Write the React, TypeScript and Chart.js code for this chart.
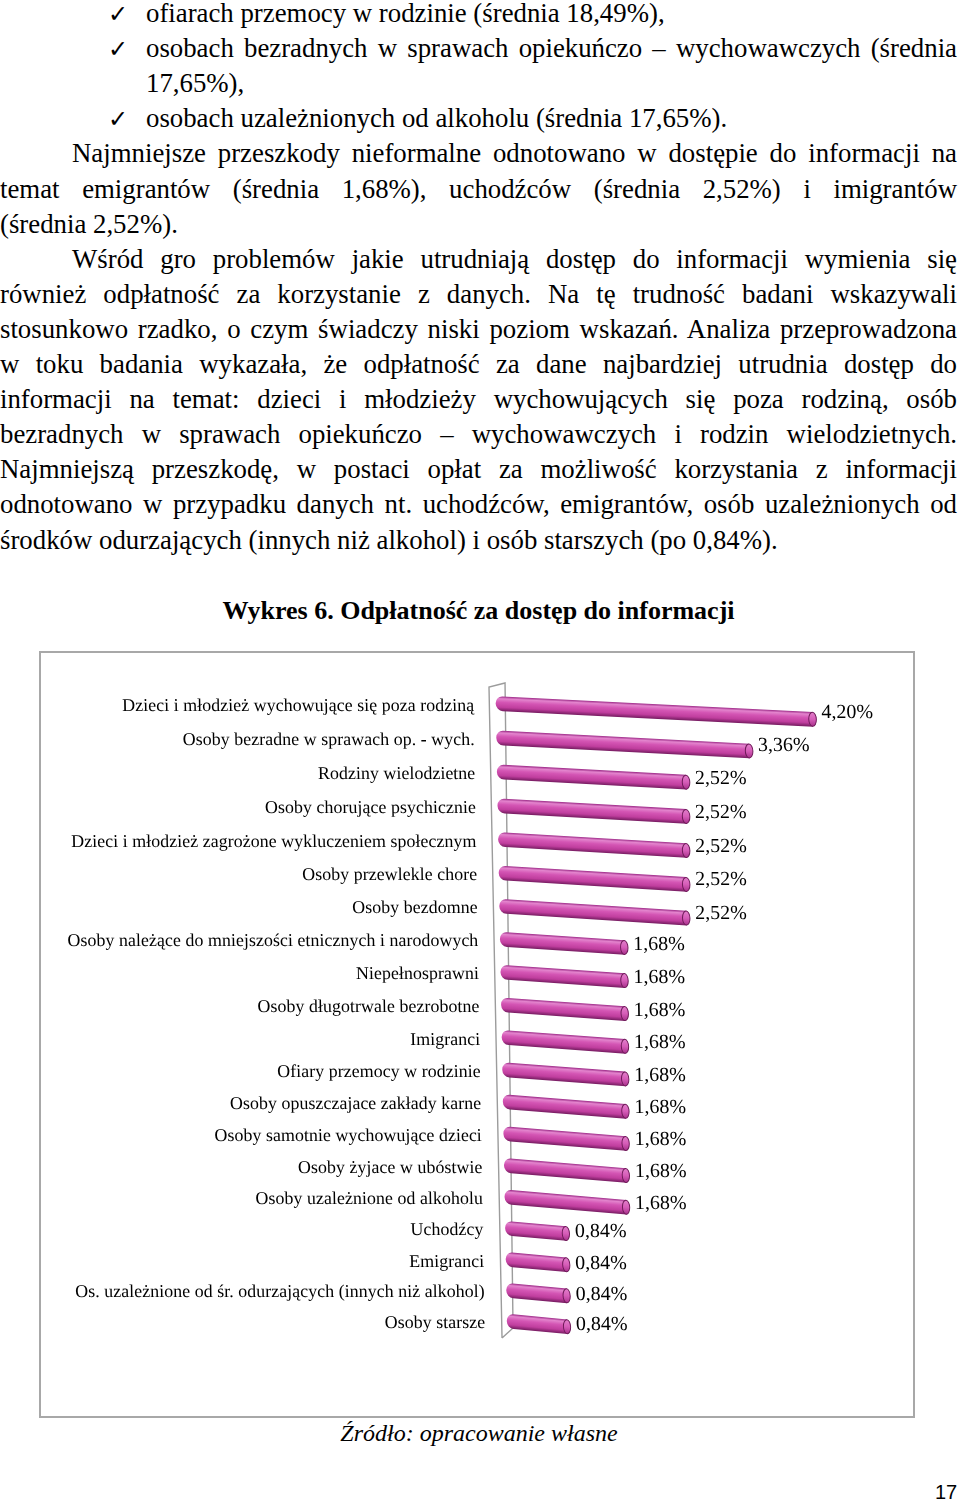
import React, { useEffect, useRef } from 'react';
import { Chart, registerables, CategoryScale } from 'chart.js';

Chart.register(...registerables);

// ---------- DATA ----------
const categories: string[] = [
  'Dzieci i młodzież wychowujące się poza rodziną',
  'Osoby bezradne w sprawach op. - wych.',
  'Rodziny wielodzietne',
  'Osoby chorujące psychicznie',
  'Dzieci i młodzież zagrożone wykluczeniem społecznym',
  'Osoby przewlekle chore',
  'Osoby bezdomne',
  'Osoby należące do mniejszości etnicznych i narodowych',
  'Niepełnosprawni',
  'Osoby długotrwale bezrobotne',
  'Imigranci',
  'Ofiary przemocy w rodzinie',
  'Osoby opuszczajace zakłady karne',
  'Osoby samotnie wychowujące dzieci',
  'Osoby żyjace w ubóstwie',
  'Osoby uzależnione od alkoholu',
  'Uchodźcy',
  'Emigranci',
  'Os. uzależnione od śr. odurzających (innych niż alkohol)',
  'Osoby starsze',
];

const values: number[] = [
  4.2, 3.36, 2.52, 2.52, 2.52, 2.52, 2.52, 1.68, 1.68, 1.68, 1.68, 1.68, 1.68,
  1.68, 1.68, 1.68, 0.84, 0.84, 0.84, 0.84,
];

const fmt = (v: number) => v.toFixed(2).replace('.', ',') + '%';

// ---------- PAGE TEXT ----------
type Line = { text: string; left: number; justify: boolean; check?: boolean };
const textLines: Line[] = [
  { text: 'ofiarach przemocy w rodzinie (średnia 18,49%),', left: 146, justify: false, check: true },
  { text: 'osobach bezradnych w sprawach opiekuńczo – wychowawczych (średnia', left: 146, justify: true, check: true },
  { text: '17,65%),', left: 146, justify: false },
  { text: 'osobach uzależnionych od alkoholu (średnia 17,65%).', left: 146, justify: false, check: true },
  { text: 'Najmniejsze przeszkody nieformalne odnotowano w dostępie do informacji na', left: 72, justify: true },
  { text: 'temat emigrantów (średnia 1,68%), uchodźców (średnia 2,52%) i imigrantów', left: 0, justify: true },
  { text: '(średnia 2,52%).', left: 0, justify: false },
  { text: 'Wśród gro problemów jakie utrudniają dostęp do informacji wymienia się', left: 72, justify: true },
  { text: 'również odpłatność za korzystanie z danych. Na tę trudność badani wskazywali', left: 0, justify: true },
  { text: 'stosunkowo rzadko, o czym świadczy niski poziom wskazań. Analiza przeprowadzona', left: 0, justify: true },
  { text: 'w toku badania wykazała, że odpłatność za dane najbardziej utrudnia dostęp do', left: 0, justify: true },
  { text: 'informacji na temat: dzieci i młodzieży wychowujących się poza rodziną, osób', left: 0, justify: true },
  { text: 'bezradnych w sprawach opiekuńczo – wychowawczych i rodzin wielodzietnych.', left: 0, justify: true },
  { text: 'Najmniejszą przeszkodę, w postaci opłat za możliwość korzystania z informacji', left: 0, justify: true },
  { text: 'odnotowano w przypadku danych nt. uchodźców, emigrantów, osób uzależnionych od', left: 0, justify: true },
  { text: 'środków odurzających (innych niż alkohol) i osób starszych (po 0,84%).', left: 0, justify: false },
];

// ---------- PERSPECTIVE HELPERS ----------
const K_PERSP = 0.06; // row spacing shrinks downward
class PerspCategoryScale extends (CategoryScale as any) {
  static id = 'perspCategory';
  static defaults = (CategoryScale as any).defaults;
  getPixelForDecimal(d: number) {
    return super.getPixelForDecimal(d + K_PERSP * d * (1 - d));
  }
}
Chart.register(PerspCategoryScale as any);

const KX = 0.018; // left edge drifts right downward
const SX_K = 0.000088; // horizontal scale compresses downward
const KY0 = 0.05; // bar slope at top
const KY_K = 0.000065; // slope growth downward

const perspectivePlugin = {
  id: 'perspective3d',
  beforeDraw(chart: any) {
    const ctx = chart.ctx;
    const y0 = chart.scales.y.getPixelForValue(0);
    ctx.save();
    ctx.transform(1, 0, KX, 1, -KX * y0, 0);
  },
  afterDraw(chart: any) {
    chart.ctx.restore();
  },
  beforeDatasetsDraw(chart: any) {
    const ctx = chart.ctx;
    const { left, top, bottom } = chart.chartArea;
    const ft = { x: left - 6.7, y: top + 0.7 };
    const fb = { x: left - 5.4, y: bottom + 1.7 };
    const bt = { x: left + 9.4, y: top - 3.3 };
    const bb = { x: left + 5.8, y: bottom - 8.3 };
    ctx.save();
    ctx.strokeStyle = '#9c9c9c';
    ctx.lineWidth = 1.4;
    ctx.beginPath();
    ctx.moveTo(fb.x, fb.y);
    ctx.lineTo(ft.x, ft.y);
    ctx.lineTo(bt.x, bt.y);
    ctx.lineTo(bb.x, bb.y);
    ctx.lineTo(fb.x, fb.y);
    ctx.stroke();
    ctx.restore();
  },
  beforeDatasetDraw(chart: any, args: any) {
    const ctx = chart.ctx;
    const meta = args.meta;
    const y0 = chart.scales.y.getPixelForValue(0);
    meta.data.forEach((el: any, i: number) => {
      const { x, y, base } = el.getProps(['x', 'y', 'base'], true);
      const dy = y - y0;
      const sx = 1 - SX_K * dy;
      const ky = KY0 + KY_K * dy;
      ctx.save();
      ctx.translate(base, y);
      ctx.transform(sx, ky, 0, 1, 0, 0);
      ctx.translate(-base, -y);
      el.draw(ctx);
      // cylinder end cap
      ctx.beginPath();
      ctx.ellipse(x, y, 3.8, 7, 0, 0, Math.PI * 2);
      const g = ctx.createLinearGradient(0, y - 7, 0, y + 7);
      g.addColorStop(0, '#e27fcb');
      g.addColorStop(0.5, '#d65db8');
      g.addColorStop(1, '#a8318b');
      ctx.fillStyle = g;
      ctx.fill();
      ctx.strokeStyle = '#6e1a58';
      ctx.lineWidth = 1;
      ctx.stroke();
      ctx.restore();
      // value label
      const len = (x - base) * sx;
      ctx.save();
      ctx.fillStyle = '#000';
      ctx.font = '20px "Liberation Serif"';
      ctx.textAlign = 'left';
      ctx.textBaseline = 'middle';
      ctx.fillText(fmt(values[i]), base + len + 9, y + 0.5 * ky * len + 1.5);
      ctx.restore();
    });
    return false;
  },
};

function BarChart() {
  const ref = useRef<HTMLCanvasElement | null>(null);
  useEffect(() => {
    if (!ref.current) return;
    const chart = new Chart(ref.current, {
      type: 'bar',
      data: {
        labels: categories,
        datasets: [
          {
            data: values,
            barThickness: 14,
            borderSkipped: false,
            borderWidth: 0,
            borderRadius: { topLeft: 7, bottomLeft: 7, topRight: 0, bottomRight: 0 },
            backgroundColor: (c: any) => {
              const ys = c.chart.scales && c.chart.scales.y;
              if (!ys || c.dataIndex == null) return '#cc46a8';
              const y = ys.getPixelForValue(c.dataIndex);
              if (!isFinite(y)) return '#cc46a8';
              const g = c.chart.ctx.createLinearGradient(0, y - 7, 0, y + 7);
              g.addColorStop(0, '#a53590');
              g.addColorStop(0.14, '#e384cd');
              g.addColorStop(0.4, '#d455b4');
              g.addColorStop(0.75, '#c03e9e');
              g.addColorStop(1, '#7c1f66');
              return g;
            },
          } as any,
        ],
      },
      options: {
        indexAxis: 'y',
        responsive: false,
        animation: false,
        events: [],
        layout: { padding: { top: 33.3, bottom: 79.7, right: 40.5, left: 0 } },
        plugins: { legend: { display: false }, tooltip: { enabled: false } },
        scales: {
          x: { display: false, min: 0, max: 5 },
          y: {
            type: 'perspCategory' as any,
            afterFit: (scale: any) => {
              scale.width = 455;
            },
            grid: { display: false, drawTicks: false },
            border: { display: false },
            ticks: {
              autoSkip: false,
              padding: 22,
              labelOffset: 2.5,
              color: '#000',
              font: { family: 'Liberation Serif', size: 18 },
            },
          } as any,
        },
      },
      plugins: [perspectivePlugin as any],
    });
    return () => chart.destroy();
  }, []);
  return <canvas ref={ref} width={872} height={763} style={{ width: 872, height: 763, display: 'block' }} />;
}

const serif = '"Liberation Serif", "Times New Roman", serif';

export default function App() {
  return (
    <div
      style={{
        position: 'absolute',
        left: 0,
        top: 0,
        width: 960,
        height: 1503,
        background: '#fff',
        color: '#000',
        fontFamily: serif,
        overflow: 'hidden',
      }}
    >
      {textLines.map((ln, i) => {
        const yc = 14.5 + 35.1 * i;
        return (
          <React.Fragment key={i}>
            {ln.check && (
              <div
                style={{
                  position: 'absolute',
                  left: 108,
                  top: yc - 16,
                  fontFamily: '"DejaVu Sans", sans-serif',
                  fontSize: 24,
                  lineHeight: '30px',
                }}
              >
                ✓
              </div>
            )}
            <div
              style={{
                position: 'absolute',
                left: ln.left,
                top: yc - 18.5,
                width: 957 - ln.left,
                fontSize: 26.8,
                lineHeight: '35px',
                textAlign: ln.justify ? 'justify' : 'left',
                textAlignLast: ln.justify ? 'justify' : 'left',
              }}
            >
              {ln.text}
            </div>
          </React.Fragment>
        );
      })}
      <div
        style={{
          position: 'absolute',
          left: 0,
          width: 957,
          top: 611 - 18,
          textAlign: 'center',
          fontSize: 26,
          lineHeight: '35px',
          fontWeight: 'bold',
        }}
      >
        Wykres 6. Odpłatność za dostęp do informacji
      </div>
      <div
        style={{
          position: 'absolute',
          left: 39,
          top: 651,
          width: 876,
          height: 767,
          boxSizing: 'border-box',
          border: '2px solid #a8a8a8',
          background: '#fff',
        }}
      >
        <BarChart />
      </div>
      <div
        style={{
          position: 'absolute',
          left: 0,
          width: 958,
          top: 1435 - 19,
          textAlign: 'center',
          fontSize: 24,
          lineHeight: '35px',
          fontStyle: 'italic',
        }}
      >
        Źródło: opracowanie własne
      </div>
      <div
        style={{
          position: 'absolute',
          left: 935,
          top: 1480,
          fontFamily: '"Liberation Sans", "DejaVu Sans", sans-serif',
          fontSize: 20,
          lineHeight: '24px',
        }}
      >
        17
      </div>
    </div>
  );
}
